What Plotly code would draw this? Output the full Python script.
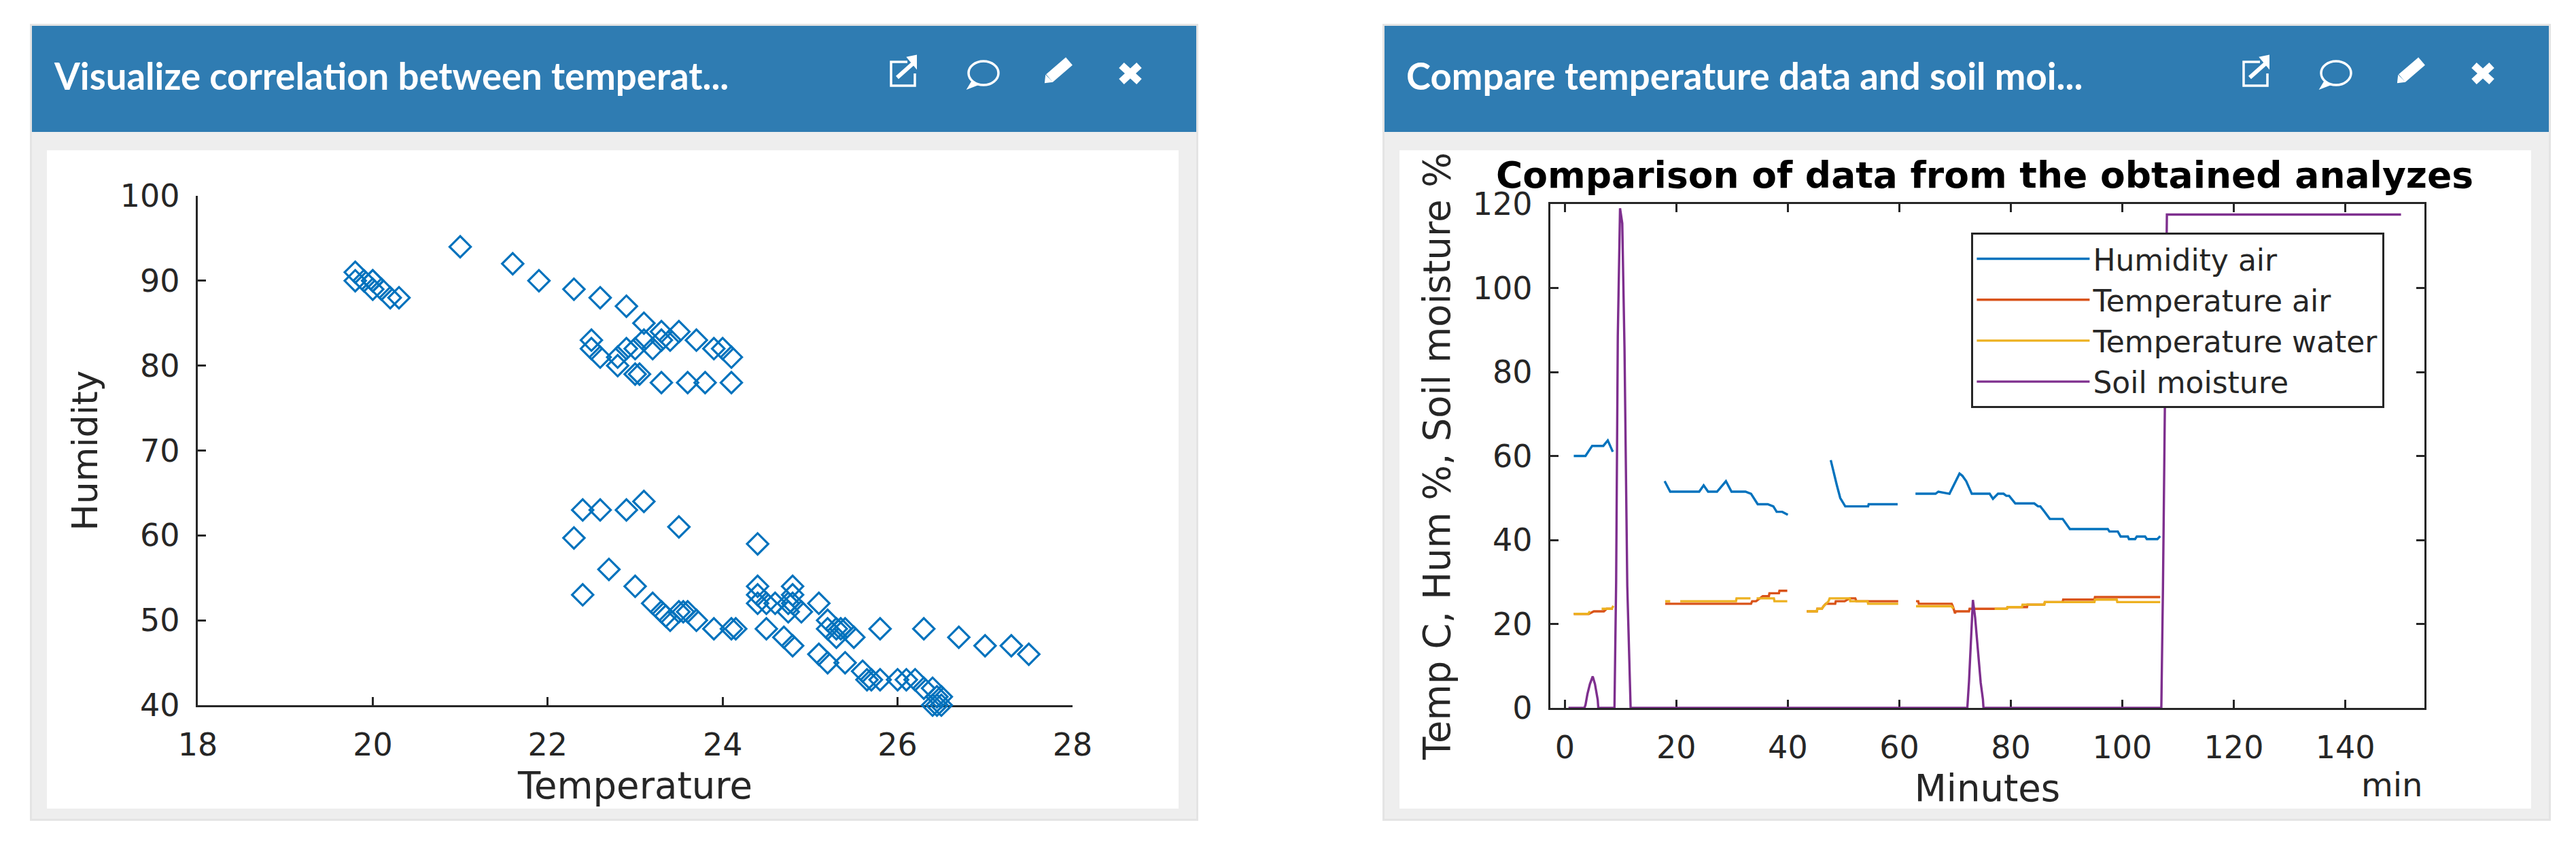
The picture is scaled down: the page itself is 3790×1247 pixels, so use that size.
import plotly.graph_objects as go

# ---------- data ----------
temperature = [19.8,19.8,19.9,20.0,20.0,20.0,20.1,20.2,20.3,
 21.0,21.6,21.9,22.3,22.6,22.9,23.1,23.3,23.5,23.7,23.9,24.0,24.1,24.1,23.8,23.6,23.3,23.0,23.05,
 22.5,22.5,22.6,22.8,22.8,22.9,23.0,23.1,23.2,23.3,23.4,
 22.4,22.6,22.9,23.1,22.3,23.5,24.4,22.7,22.4,23.0,23.2,23.3,23.35,23.4,23.5,23.55,23.6,23.7,23.9,24.1,24.15,
 24.5,24.7,24.8,24.4,24.4,24.4,24.5,24.6,24.75,24.8,24.75,24.8,24.8,24.9,25.1,25.2,25.2,25.3,25.35,25.3,25.4,25.5,
 25.8,26.3,26.7,27.0,27.3,27.5,25.1,25.2,25.4,25.6,25.65,25.7,25.8,26.0,26.1,26.2,26.3,26.4,26.45,26.5,26.4,26.45,26.5]
humidity = [91,90,90,90,89,90,89,88,88,
 94,92,90,89,88,87,85,84,84,83,82,82,81,78,78,78,78,79,79,
 83,82,81,80,81,82,82,83,82,83,83,
 63,63,63,64,59.7,61,59,56,53,54,52,51,50.5,50,51,51,51,50,49,49,49,
 49,48,47,54,53,52,52,52,52,54,51,52,53,51,52,50,49,49,49,48,49,48,
 49,49,48,47,47,46,46,45,45,44,43,43,43,43,43,43,42,42,41,41,40,40,40]

humidity_x = [1.6,3.7,4.9,6.9,7.7,8.6,None,
 17.9,18.9,24.1,24.9,25.7,27.3,28.9,29.9,32.4,33.4,34.6,36.4,37.4,38.0,39.0,40.0,None,
 47.7,48.3,48.8,49.4,50.3,54.4,54.5,59.7,None,
 62.9,66.5,67,69,70.8,71.3,72,73,76.2,76.8,77.7,78.7,79.2,79.7,80.8,84.2,84.9,85.3,86,87,89.3,90.6,97.4,97.7,99.2,99.7,
 101,101.2,102.3,102.6,104.1,104.4,106.3,106.8]
humidity_y = [60,60,62.4,62.4,63.7,61,None,
 54,51.5,51.5,53,51.5,51.5,54,51.5,51.5,51,48.5,48.5,48,46.7,46.7,46,None,
 59,55.5,53,50,48,48,48.5,48.5,None,
 51,51,51.5,51,55.8,55.3,54,51,51,49.8,51,51,50.5,50.5,48.7,48.7,48,48,46.8,45,45,42.6,42.6,42,42,40.8,
 40.8,40.2,40.2,40.8,40.8,40.2,40.2,40.9]

temp_air_x = [1.6,4.3,5.2,7,7.5,8.6,None,
 18,33.4,33.6,34.3,35.5,36.6,36.7,38.4,38.5,39.9,None,
 43.4,45.2,45.3,46.1,46.4,46.8,47.3,47.5,48.5,48.6,50.2,51.1,52.1,52.3,54.3,59.8,None,
 63,63.4,63.5,69.4,69.6,70,70.1,72.5,72.6,79.3,79.4,82.9,83,86,86.1,89.3,89.4,95,95.1,106.8]
temp_air_y = [22.4,22.4,23,23,23.6,23.6,None,
 24.8,24.8,25.4,25.4,26.6,26.6,27.3,27.3,27.9,27.9,None,
 23,23,23.6,23.6,24.2,24.8,24.8,24.8,24.8,25.4,25.4,26.1,26.1,25.4,25.4,25.4,None,
 25.4,25.4,24.8,24.8,24.2,22.5,23,23,23.6,23.6,24,24,24.6,24.6,25.2,25.2,25.8,25.8,26.4,26.4]
temp_water_x = [1.6,4.2,4.5,None,6.6,8.4,8.7,None,
 18,18.9,None,20.7,30.7,30.8,33.3,None,34.4,37.5,37.6,39.9,None,
 43.4,45.2,45.3,46.1,46.4,46.8,47.3,47.5,51.1,51.2,54.3,54.4,59.8,None,
 63,69.4,69.7,None,77.1,79.3,79.4,82,82.1,86,86.1,95,95.1,99,99.1,106.8]
temp_water_y = [22.4,22.4,23,None,23.6,23.6,24.3,None,
 25.4,25.4,None,25.4,25.4,26.1,26.1,None,26.1,26.1,25.4,25.4,None,
 23,23,23.6,23.6,24.2,24.8,25.4,26.1,26.1,25.4,25.4,24.8,24.8,None,
 24.2,24.2,23.6,None,23.6,23.6,24,24,24.6,24.6,25.2,25.2,25.8,25.8,25.2,25.2]
soil_x = [0.65,3.5,3.7,4.05,4.5,5,5.4,5.9,6,8.9,9.2,9.5,9.9,10.3,10.7,11.2,11.8,
 72.2,72.5,72.9,73.2,73.6,74.1,74.6,75,75.1,107,107.3,108,150]
soil_y = [0,0,0.7,3.3,5.7,7.5,5.7,1.9,0,0,30,88.7,119,115.4,85.8,29,0,
 0,6.2,19,25.7,21.5,13,6,2,0,0,29,117.5,117.5]

x_ticks_left = [18,20,22,24,26,28]
y_ticks_left = [40,50,60,70,80,90,100]
x_ticks_right = [0,20,40,60,80,100,120,140]
y_ticks_right = [0,20,40,60,80,100,120]
header_left = "Visualize correlation between temperat..."
header_right = "Compare temperature data and soil moi..."

W, H = 3790, 1247
INK = "#262626"
def px(v): return v / W
def py(v): return 1 - v / H

fig = go.Figure()
fig.add_trace(go.Scatter(x=temperature, y=humidity, mode="markers", showlegend=False, xaxis="x", yaxis="y",
    marker=dict(symbol="diamond-open", size=24, color="#0072bd", line=dict(width=3.2, color="#0072bd")), cliponaxis=False))
LW = 3.4
for name, xs, ys, col in [("Humidity air", humidity_x, humidity_y, "#0072bd"),
                          ("Temperature air", temp_air_x, temp_air_y, "#d95319"),
                          ("Temperature water", temp_water_x, temp_water_y, "#edb120"),
                          ("Soil moisture", soil_x, soil_y, "#7e2f8e")]:
    fig.add_trace(go.Scatter(x=xs, y=ys, mode="lines", name=name, xaxis="x2", yaxis="y2",
        line=dict(color=col, width=LW), cliponaxis=False, connectgaps=False))

shapes = []
def rect(x0, y0, x1, y1, fill):
    shapes.append(dict(type="rect", xref="paper", yref="paper", x0=px(x0), x1=px(x1), y0=py(y0), y1=py(y1),
                       fillcolor=fill, line=dict(width=0), layer="below"))
def path(points, close=False, fill=None, width=3.5):
    d = "M " + " L ".join(f"{px(a):.6f},{py(b):.6f}" for a, b in points) + (" Z" if close else "")
    shapes.append(dict(type="path", xref="paper", yref="paper", path=d, fillcolor=fill,
                       line=dict(color="white", width=width), layer="above"))

annotations = []
for dx, head in [(0, header_left), (1990, header_right)]:
    rect(44+dx, 35, 1763+dx, 1207, "#e4e4e4")
    rect(47+dx, 38, 1760+dx, 1204, "#eeeeee")
    rect(47+dx, 38, 1760+dx, 194, "#2f7cb2")
    rect(69+dx, 221, 1734+dx, 1189, "#ffffff")
    annotations.append(dict(text=f"<b>{head}</b>", x=px(77+dx), y=py(111), xref="paper", yref="paper", showarrow=False,
        xanchor="left", yanchor="middle", font=dict(family="Lato", size=54.5, color="white")))
    # external-link icon
    path([(1335+dx,91),(1311+dx,91),(1311+dx,126),(1346+dx,126),(1346+dx,108)], width=3.5)
    path([(1320+dx,114),(1347+dx,90)], width=6)
    path([(1337+dx,85),(1347+dx,83),(1347+dx,97)], close=True, fill="white", width=4)
    # comment icon
    shapes.append(dict(type="circle", xref="paper", yref="paper", x0=px(1425+dx), x1=px(1469+dx), y0=py(125), y1=py(90),
                       line=dict(color="white", width=3.5), layer="above"))
    path([(1430+dx,120),(1424+dx,130),(1437+dx,125)], close=True, fill="white", width=2)
    # pencil icon
    path([(1544+dx,115),(1573+dx,90)], width=15)
    path([(1538+dx,121),(1539+dx,112),(1547+dx,120)], close=True, fill="white", width=2)
    # times icon
    path([(1650+dx,96),(1676+dx,120)], width=11)
    path([(1676+dx,96),(1650+dx,120)], width=11)

annotations.append(dict(text="<b>Comparison of data from the obtained analyzes</b>", x=px(2920), y=py(258), xref="paper", yref="paper",
    showarrow=False, xanchor="center", yanchor="middle", font=dict(family="DejaVu Sans", size=53.5, color="black")))
annotations.append(dict(text="min", x=px(3519), y=py(1154), xref="paper", yref="paper", showarrow=False,
    xanchor="center", yanchor="middle", font=dict(family="DejaVu Sans", size=48, color=INK)))

def axis(**kw):
    base = dict(showgrid=False, zeroline=False, showline=True, linecolor=INK, linewidth=3.4,
                ticks="inside", ticklen=12, tickwidth=3.2, tickcolor=INK,
                tickfont=dict(family="DejaVu Sans", size=46, color=INK), layer="below traces")
    base.update(kw)
    return base
TF = dict(family="DejaVu Sans", size=54.5, color=INK)

fig.update_layout(
    width=W, height=H, autosize=False, margin=dict(l=0, r=0, t=0, b=0, autoexpand=False),
    paper_bgcolor="white", plot_bgcolor="white",
    xaxis=axis(domain=[px(291), px(1578)], range=[18, 28], tickvals=x_ticks_left, anchor="y", ticklabelstandoff=16,
               title=dict(text="Temperature", font=TF, standoff=15)),
    yaxis=axis(domain=[py(1037), py(288)], range=[40, 100], tickvals=y_ticks_left, anchor="x", ticklabelstandoff=14,
               title=dict(text="Humidity", font=dict(family="DejaVu Sans", size=52, color=INK), standoff=17)),
    xaxis2=axis(domain=[px(2281), px(3567)], range=[-2.6, 154.2], tickvals=x_ticks_right, anchor="y2", mirror="ticks", ticklabelstandoff=16,
                title=dict(text="Minutes", font=TF, standoff=15)),
    yaxis2=axis(domain=[py(1041), py(300)], range=[0, 120], tickvals=y_ticks_right, anchor="x2", mirror="ticks", ticklabelstandoff=14,
                title=dict(text="Temp C, Hum %, Soil moisture %", font=TF, standoff=16)),
    legend=dict(x=px(2900), y=py(342), xanchor="left", yanchor="top", bgcolor="white", bordercolor=INK, borderwidth=3.4,
                font=dict(family="DejaVu Sans", size=44, color=INK), itemwidth=166, entrywidth=471, traceorder="normal"),
    shapes=shapes, annotations=annotations,
)
fig.write_html("out.html", config={"displayModeBar": False}, post_script="document.body.style.margin='0';")
